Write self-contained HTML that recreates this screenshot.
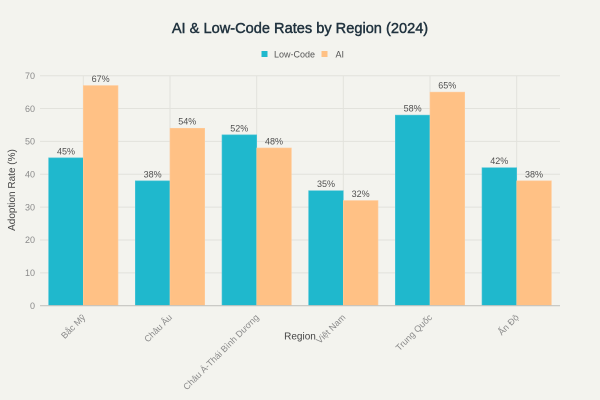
<!DOCTYPE html>
<html><head><meta charset="utf-8"><style>
html,body{margin:0;padding:0;background:#f3f3ee;}
svg{display:block;}
text{font-family:"Liberation Sans","Noto Sans CJK SC",sans-serif;}
</style></head><body>
<svg width="600" height="400" viewBox="0 0 600 400" xmlns="http://www.w3.org/2000/svg">
<rect width="600" height="400" fill="#f3f3ee"/>
<text x="300" y="33" text-anchor="middle" font-size="14.6" fill="#21333f" stroke="#21333f" stroke-width="0.45">AI &amp; Low-Code Rates by Region (2024)</text>
<!-- legend -->
<rect x="261.5" y="51" width="6" height="6" fill="#1FB8CD"/>
<text x="274" y="57.3" font-size="9" fill="#555">Low-Code</text>
<rect x="321.5" y="51" width="6" height="6" fill="#FFC185"/>
<text x="335.5" y="57.3" font-size="9" fill="#555">AI</text>
<!-- grid -->
<g stroke="#e2e2dc" stroke-width="1">
<line x1="40" x2="560" y1="75.7" y2="75.7"/>
<line x1="40" x2="560" y1="108.56" y2="108.56"/>
<line x1="40" x2="560" y1="141.41" y2="141.41"/>
<line x1="40" x2="560" y1="174.27" y2="174.27"/>
<line x1="40" x2="560" y1="207.13" y2="207.13"/>
<line x1="40" x2="560" y1="239.99" y2="239.99"/>
<line x1="40" x2="560" y1="272.84" y2="272.84"/>
<line x1="83.3" x2="83.3" y1="75.7" y2="305.7"/>
<line x1="170" x2="170" y1="75.7" y2="305.7"/>
<line x1="256.7" x2="256.7" y1="75.7" y2="305.7"/>
<line x1="343.3" x2="343.3" y1="75.7" y2="305.7"/>
<line x1="430" x2="430" y1="75.7" y2="305.7"/>
<line x1="516.7" x2="516.7" y1="75.7" y2="305.7"/>
</g>
<!-- y ticks -->
<g font-size="9" fill="#8a8a8a" text-anchor="end">
<text x="35" y="308.9">0</text>
<text x="35" y="276.0">10</text>
<text x="35" y="243.2">20</text>
<text x="35" y="210.3">30</text>
<text x="35" y="177.5">40</text>
<text x="35" y="144.6">50</text>
<text x="35" y="111.8">60</text>
<text x="35" y="78.9">70</text>
</g>
<text transform="translate(15,190) rotate(-90)" text-anchor="middle" font-size="10" fill="#444">Adoption Rate (%)</text>
<!-- bars -->
<g stroke-width="0.6">
<rect x="48.6" y="157.84" width="34.7" height="147.86" fill="#1FB8CD" stroke="#4fc5d7"/>
<rect x="83.3" y="85.56" width="34.7" height="220.14" fill="#FFC185" stroke="#ffcc9c"/>
<rect x="135.3" y="180.84" width="34.7" height="124.86" fill="#1FB8CD" stroke="#4fc5d7"/>
<rect x="170" y="128.27" width="34.7" height="177.43" fill="#FFC185" stroke="#ffcc9c"/>
<rect x="222" y="134.84" width="34.7" height="170.86" fill="#1FB8CD" stroke="#4fc5d7"/>
<rect x="256.7" y="147.99" width="34.7" height="157.71" fill="#FFC185" stroke="#ffcc9c"/>
<rect x="308.6" y="190.70" width="34.7" height="115.0" fill="#1FB8CD" stroke="#4fc5d7"/>
<rect x="343.3" y="200.56" width="34.7" height="105.14" fill="#FFC185" stroke="#ffcc9c"/>
<rect x="395.3" y="115.13" width="34.7" height="190.57" fill="#1FB8CD" stroke="#4fc5d7"/>
<rect x="430" y="92.13" width="34.7" height="213.57" fill="#FFC185" stroke="#ffcc9c"/>
<rect x="482" y="167.70" width="34.7" height="138.0" fill="#1FB8CD" stroke="#4fc5d7"/>
<rect x="516.7" y="180.84" width="34.7" height="124.86" fill="#FFC185" stroke="#ffcc9c"/>
</g>
<line x1="40" x2="560" y1="305.7" y2="305.7" stroke="#c4c4c0" stroke-width="1.2"/>
<!-- data labels -->
<g font-size="9" fill="#505050" text-anchor="middle">
<text x="66" y="154.3">45%</text>
<text x="100.6" y="82">67%</text>
<text x="152.6" y="177.3">38%</text>
<text x="187.3" y="124.7">54%</text>
<text x="239.3" y="131.3">52%</text>
<text x="274" y="144.4">48%</text>
<text x="326" y="187.1">35%</text>
<text x="360.6" y="197">32%</text>
<text x="412.6" y="111.6">58%</text>
<text x="447.3" y="88.6">65%</text>
<text x="499.3" y="164.1">42%</text>
<text x="534" y="177.3">38%</text>
</g>
<!-- x tick labels -->
<g font-size="9" fill="#8a8a8a" text-anchor="end">
<text transform="translate(86,318) rotate(-45)">Bắc Mỹ</text>
<text transform="translate(172.7,318) rotate(-45)">Châu Âu</text>
<text transform="translate(259.4,318) rotate(-45)">Châu Á-Thái Bình Dương</text>
<text transform="translate(346,318) rotate(-45)">Việt Nam</text>
<text transform="translate(432.7,318) rotate(-45)">Trung Quốc</text>
<text transform="translate(519.4,318) rotate(-45)">Ấn Độ</text>
</g>
<text x="300" y="339.5" text-anchor="middle" font-size="10" fill="#444">Region</text>
</svg>
</body></html>
